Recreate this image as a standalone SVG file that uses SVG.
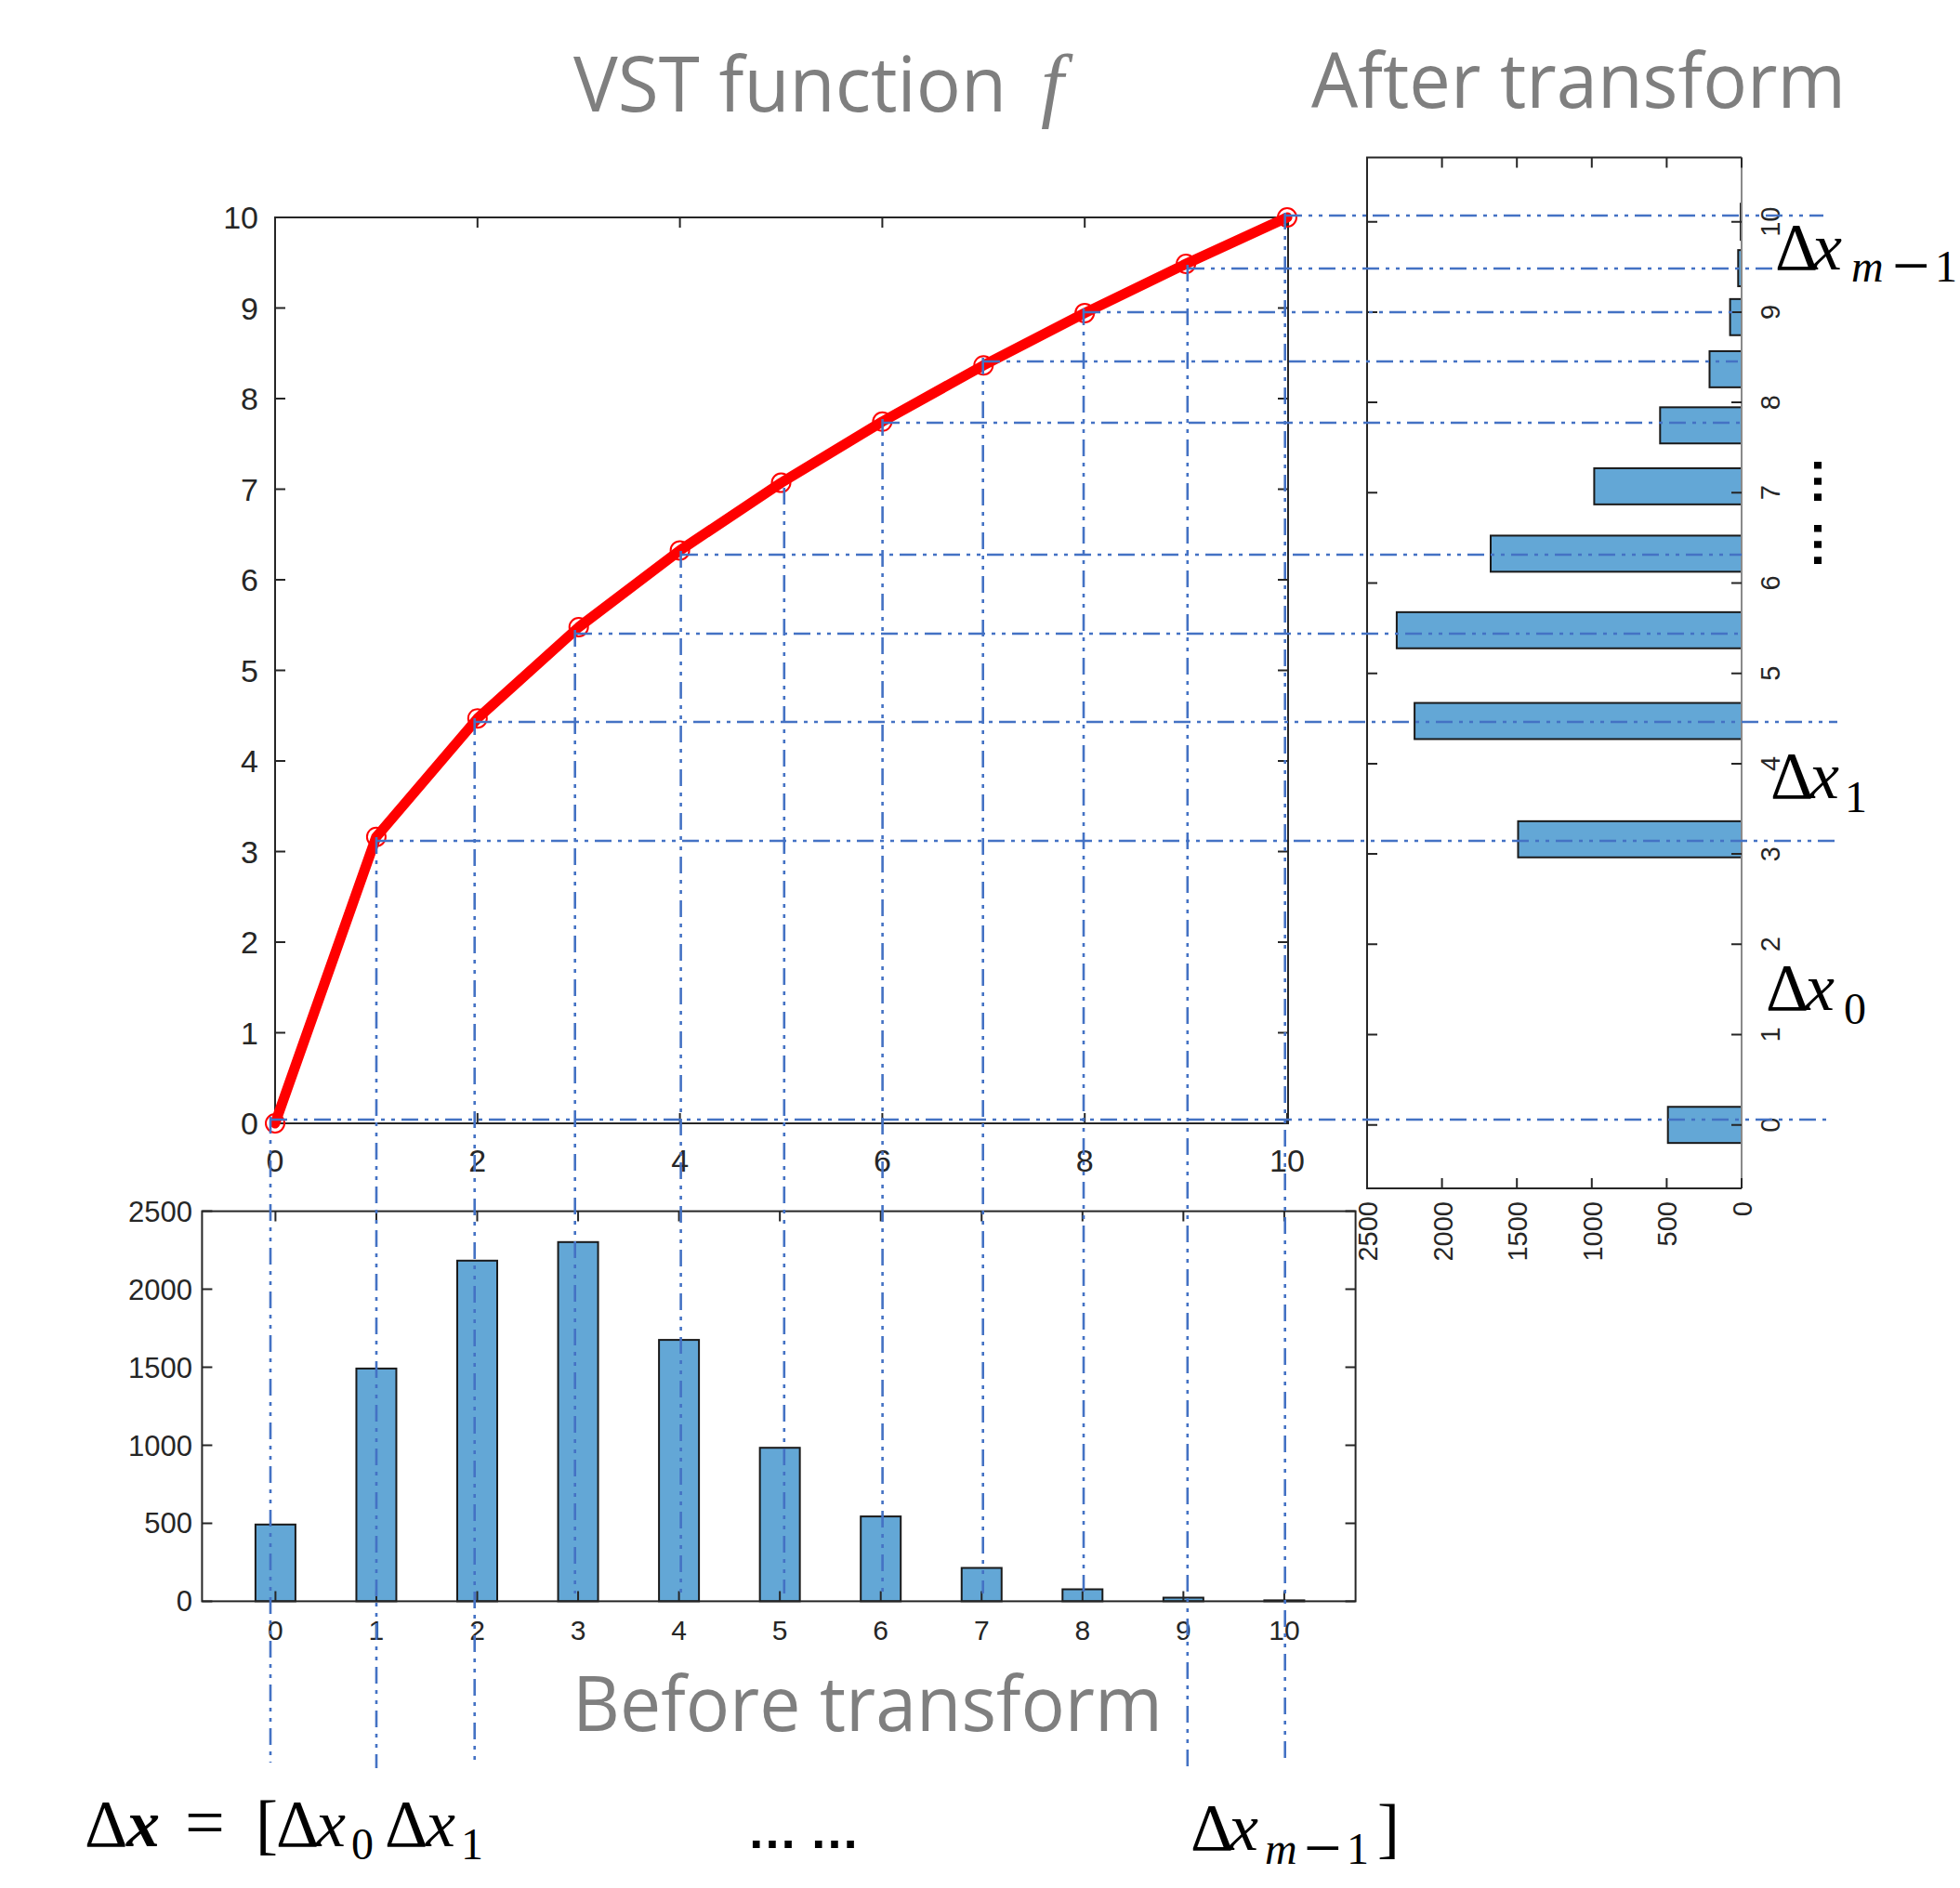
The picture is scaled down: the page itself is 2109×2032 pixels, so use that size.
<svg xmlns="http://www.w3.org/2000/svg" width="2109" height="2032" viewBox="0 0 2109 2032">
<style>
.frame{fill:none;stroke:#262626;stroke-width:2}
.tick{stroke:#262626;stroke-width:2}
.lbl{font-family:"Liberation Sans",Arial,sans-serif;fill:#262626}
.bar{fill:#63A7D6;stroke:#1a1a1a;stroke-width:2}
.guide{fill:none;stroke:#4472C4;stroke-width:2.6;stroke-dasharray:18 7 4 7 4 7}
.title{font-family:"Open Sans","Noto Sans",sans-serif;font-size:83px;fill:#7F7F7F}
.math{font-family:"Liberation Serif","DejaVu Serif",serif;fill:#000;font-size:72px}
.it{font-style:italic}
.sub{font-size:48px}
.dots{font-family:"Liberation Sans",Arial,sans-serif;font-weight:bold;font-size:54px;fill:#000}
</style>
<rect width="2109" height="2032" fill="#fff"/>

<!-- Top plot: VST function -->
<g id="top-plot">
  <rect class="frame" x="296" y="234" width="1090" height="975"/>
  <g class="tick">
    <path d="M296 1209h11M296 1111.5h11M296 1014h11M296 916.5h11M296 819h11M296 721.5h11M296 624h11M296 526.5h11M296 429h11M296 331.5h11M296 234h11"/>
    <path d="M1386 1209h-11M1386 1111.5h-11M1386 1014h-11M1386 916.5h-11M1386 819h-11M1386 721.5h-11M1386 624h-11M1386 526.5h-11M1386 429h-11M1386 331.5h-11M1386 234h-11"/>
    <path d="M296 1209v-11M513.8 1209v-11M731.6 1209v-11M949.4 1209v-11M1167.2 1209v-11M1385 1209v-11"/>
    <path d="M296 234v11M513.8 234v11M731.6 234v11M949.4 234v11M1167.2 234v11M1385 234v11"/>
  </g>
  <g class="lbl" font-size="34" text-anchor="end">
    <text x="278" y="1221">0</text>
    <text x="278" y="1123.5">1</text>
    <text x="278" y="1026">2</text>
    <text x="278" y="928.5">3</text>
    <text x="278" y="831">4</text>
    <text x="278" y="733.5">5</text>
    <text x="278" y="636">6</text>
    <text x="278" y="538.5">7</text>
    <text x="278" y="441">8</text>
    <text x="278" y="343.5">9</text>
    <text x="278" y="246">10</text>
  </g>
  <g class="lbl" font-size="34" text-anchor="middle">
    <text x="296" y="1261">0</text>
    <text x="513.8" y="1261">2</text>
    <text x="731.6" y="1261">4</text>
    <text x="949.4" y="1261">6</text>
    <text x="1167.2" y="1261">8</text>
    <text x="1385" y="1261">10</text>
  </g>
  <polyline fill="none" stroke="#FF0000" stroke-width="11" stroke-linejoin="round" stroke-linecap="round" points="296,1209 404.9,900.7 513.8,773.2 622.7,675 731.6,592.4 840.5,519.6 949.4,453.8 1058.3,393.2 1167.2,336.9 1276.1,284 1385,234"/>
  <g fill="none" stroke="#FF0000" stroke-width="2">
    <circle cx="296" cy="1209" r="10"/>
    <circle cx="404.9" cy="900.7" r="10"/>
    <circle cx="513.8" cy="773.2" r="10"/>
    <circle cx="622.7" cy="675" r="10"/>
    <circle cx="731.6" cy="592.4" r="10"/>
    <circle cx="840.5" cy="519.6" r="10"/>
    <circle cx="949.4" cy="453.8" r="10"/>
    <circle cx="1058.3" cy="393.2" r="10"/>
    <circle cx="1167.2" cy="336.9" r="10"/>
    <circle cx="1276.1" cy="284" r="10"/>
    <circle cx="1385" cy="234" r="10"/>
  </g>
</g>

<!-- Bottom plot: before transform histogram -->
<g id="bottom-plot">
  <g class="bar">
    <rect x="274.9" y="1640.8" width="43" height="82.6"/>
    <rect x="383.45" y="1472.9" width="43" height="250.5"/>
    <rect x="492" y="1356.8" width="43" height="366.6"/>
    <rect x="600.55" y="1336.8" width="43" height="386.6"/>
    <rect x="709.1" y="1442.1" width="43" height="281.3"/>
    <rect x="817.65" y="1558.2" width="43" height="165.2"/>
    <rect x="926.2" y="1632.1" width="43" height="91.3"/>
    <rect x="1034.75" y="1687.5" width="43" height="35.9"/>
    <rect x="1143.3" y="1710.5" width="43" height="12.9"/>
    <rect x="1251.85" y="1719.5" width="43" height="3.9"/>
    <rect x="1360.4" y="1722.4" width="43" height="1"/>
  </g>
  <rect class="frame" x="217.4" y="1303.6" width="1241.2" height="419.8"/>
  <g class="tick">
    <path d="M296.4 1723.4v-11M404.95 1723.4v-11M513.5 1723.4v-11M622.05 1723.4v-11M730.6 1723.4v-11M839.15 1723.4v-11M947.7 1723.4v-11M1056.25 1723.4v-11M1164.8 1723.4v-11M1273.35 1723.4v-11M1381.9 1723.4v-11"/>
    <path d="M296.4 1303.6v11M404.95 1303.6v11M513.5 1303.6v11M622.05 1303.6v11M730.6 1303.6v11M839.15 1303.6v11M947.7 1303.6v11M1056.25 1303.6v11M1164.8 1303.6v11M1273.35 1303.6v11M1381.9 1303.6v11"/>
    <path d="M217.4 1723.4h11M217.4 1639.4h11M217.4 1555.5h11M217.4 1471.5h11M217.4 1387.6h11M217.4 1303.6h11"/>
    <path d="M1458.6 1723.4h-11M1458.6 1639.4h-11M1458.6 1555.5h-11M1458.6 1471.5h-11M1458.6 1387.6h-11M1458.6 1303.6h-11"/>
  </g>
  <g class="lbl" font-size="31" text-anchor="end">
    <text x="207" y="1734.4">0</text>
    <text x="207" y="1650.4">500</text>
    <text x="207" y="1566.5">1000</text>
    <text x="207" y="1482.5">1500</text>
    <text x="207" y="1398.6">2000</text>
    <text x="207" y="1314.6">2500</text>
  </g>
  <g class="lbl" font-size="30" text-anchor="middle">
    <text x="296.4" y="1765">0</text>
    <text x="404.95" y="1765">1</text>
    <text x="513.5" y="1765">2</text>
    <text x="622.05" y="1765">3</text>
    <text x="730.6" y="1765">4</text>
    <text x="839.15" y="1765">5</text>
    <text x="947.7" y="1765">6</text>
    <text x="1056.25" y="1765">7</text>
    <text x="1164.8" y="1765">8</text>
    <text x="1273.35" y="1765">9</text>
    <text x="1381.9" y="1765">10</text>
  </g>
</g>

<!-- Right plot: after transform histogram (rotated) -->
<g id="right-plot">
  <g class="bar">
    <rect x="1794.7" y="1191.25" width="79.3" height="38.9"/>
    <rect x="1633.5" y="883.85" width="240.5" height="38.9"/>
    <rect x="1522.1" y="756.55" width="351.9" height="38.9"/>
    <rect x="1502.9" y="658.85" width="371.1" height="38.9"/>
    <rect x="1604" y="576.45" width="270" height="38.9"/>
    <rect x="1715.4" y="503.95" width="158.6" height="38.9"/>
    <rect x="1786.3" y="438.35" width="87.7" height="38.9"/>
    <rect x="1839.5" y="377.95" width="34.5" height="38.9"/>
    <rect x="1861.6" y="321.85" width="12.4" height="38.9"/>
    <rect x="1870.3" y="269.15" width="3.7" height="38.9"/>
    <rect x="1873" y="219.25" width="1" height="38.9"/>
  </g>
  <path class="frame" d="M1874 1279H1471V169.5H1874"/>
  <path d="M1874 169.5V1279" fill="none" stroke="#8a8a8a" stroke-width="2"/>
  <g class="tick">
    <path d="M1874 1210.7h-11M1874 1113.5h-11M1874 1016.3h-11M1874 919.1h-11M1874 821.9h-11M1874 724.7h-11M1874 627.5h-11M1874 530.3h-11M1874 433.1h-11M1874 335.9h-11M1874 238.7h-11"/>
    <path d="M1471 1210.7h11M1471 1113.5h11M1471 1016.3h11M1471 919.1h11M1471 821.9h11M1471 724.7h11M1471 627.5h11M1471 530.3h11M1471 433.1h11M1471 335.9h11M1471 238.7h11"/>
    <path d="M1874 169.5v11M1793.4 169.5v11M1712.8 169.5v11M1632.2 169.5v11M1551.6 169.5v11M1471 169.5v11"/>
    <path d="M1874 1279v-11M1793.4 1279v-11M1712.8 1279v-11M1632.2 1279v-11M1551.6 1279v-11M1471 1279v-11"/>
  </g>
  <g class="lbl" font-size="29" text-anchor="middle">
    <text transform="translate(1915 1210.7) rotate(-90)">0</text>
    <text transform="translate(1915 1113.5) rotate(-90)">1</text>
    <text transform="translate(1915 1016.3) rotate(-90)">2</text>
    <text transform="translate(1915 919.1) rotate(-90)">3</text>
    <text transform="translate(1915 821.9) rotate(-90)">4</text>
    <text transform="translate(1915 724.7) rotate(-90)">5</text>
    <text transform="translate(1915 627.5) rotate(-90)">6</text>
    <text transform="translate(1915 530.3) rotate(-90)">7</text>
    <text transform="translate(1915 433.1) rotate(-90)">8</text>
    <text transform="translate(1915 335.9) rotate(-90)">9</text>
    <text transform="translate(1915 238.7) rotate(-90)">10</text>
  </g>
  <g class="lbl" font-size="29" text-anchor="end">
    <text transform="translate(1885 1293) rotate(-90)">0</text>
    <text transform="translate(1804.4 1293) rotate(-90)">500</text>
    <text transform="translate(1723.8 1293) rotate(-90)">1000</text>
    <text transform="translate(1643.2 1293) rotate(-90)">1500</text>
    <text transform="translate(1562.6 1293) rotate(-90)">2000</text>
    <text transform="translate(1482 1293) rotate(-90)">2500</text>
  </g>
</g>

<!-- Connectors: dash-dot-dot projection guides -->
<g id="connectors" class="guide">
  <path d="M1383 232H1962"/>
  <path d="M1278 289H1907"/>
  <path d="M1166 336H1870"/>
  <path d="M1058 389H1870"/>
  <path d="M950 455H1874"/>
  <path d="M733 597H1874"/>
  <path d="M619 682H1874"/>
  <path d="M511 777H1977"/>
  <path d="M405 905H1978"/>
  <path d="M291 1205H1972"/>
  <path d="M291 1202V1897"/>
  <path d="M405 901V1903"/>
  <path d="M510.7 773V1899"/>
  <path d="M618.7 678V1715"/>
  <path d="M732.6 593V1715"/>
  <path d="M843.8 525V1715"/>
  <path d="M949.6 451V1715"/>
  <path d="M1057.7 385V1715"/>
  <path d="M1166 332V1715"/>
  <path d="M1277.8 285V1903"/>
  <path d="M1382.7 229V1897"/>
</g>

<!-- Titles -->
<g id="titles">
  <text class="title" x="617" y="120"><tspan textLength="466" lengthAdjust="spacingAndGlyphs">VST function</tspan><tspan x="1120" style="font-family:'Liberation Serif','DejaVu Serif',serif;font-style:italic;font-size:88px">f</tspan></text>
  <text class="title" x="1411" y="116" textLength="575" lengthAdjust="spacingAndGlyphs">After transform</text>
  <text class="title" x="616" y="1863" textLength="635" lengthAdjust="spacingAndGlyphs">Before transform</text>
</g>

<!-- Right-side math labels -->
<g id="label-dx-m1-right">
  <text class="math"><tspan x="1910" y="290">Δ</tspan><tspan class="it" x="1950" y="290">x</tspan><tspan class="it sub" x="1992" y="303">m</tspan><tspan x="2036" y="310">−</tspan><tspan class="sub" x="2082" y="303">1</tspan></text>
</g>
<g id="label-dx1-right">
  <text class="math"><tspan x="1905" y="859">Δ</tspan><tspan class="it" x="1947" y="859">x</tspan><tspan class="sub" x="1985" y="874">1</tspan></text>
</g>
<g id="label-dx0-right">
  <text class="math"><tspan x="1900" y="1087">Δ</tspan><tspan class="it" x="1942" y="1087">x</tspan><tspan class="sub" x="1984" y="1102">0</tspan></text>
</g>
<g id="label-vdots">
  <text class="dots" transform="translate(1952 491) rotate(90)">…</text>
  <text class="dots" transform="translate(1952 559) rotate(90)">…</text>
</g>

<!-- Bottom equation -->
<g id="equation">
  <text class="math"><tspan x="91" y="1987">Δ</tspan><tspan class="it" x="136" y="1987" font-weight="bold">x</tspan><tspan x="199" y="1987" style="font-size:76px">=</tspan><tspan x="275" y="1987">[</tspan><tspan x="297" y="1987">Δ</tspan><tspan class="it" x="340" y="1987">x</tspan><tspan class="sub" x="378" y="2001">0</tspan><tspan x="414" y="1987">Δ</tspan><tspan class="it" x="458" y="1987">x</tspan><tspan class="sub" x="496" y="2001">1</tspan></text>
  <text class="dots"><tspan x="804" y="1989">…</tspan><tspan x="871" y="1989">…</tspan></text>
  <text class="math"><tspan x="1281" y="1991">Δ</tspan><tspan class="it" x="1322" y="1991">x</tspan><tspan class="it sub" x="1361" y="2006">m</tspan><tspan x="1403" y="2013">−</tspan><tspan class="sub" x="1449" y="2006">1</tspan><tspan x="1482" y="1991">]</tspan></text>
</g>
</svg>
